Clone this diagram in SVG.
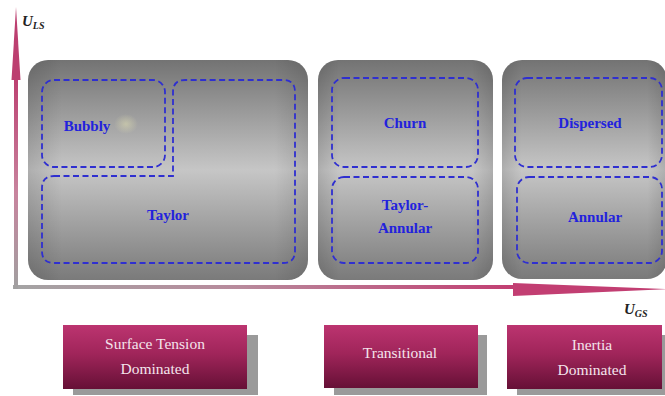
<svg xmlns="http://www.w3.org/2000/svg" width="665" height="396" viewBox="0 0 665 396">
<defs>
<linearGradient id="panelGrad" x1="0" y1="0" x2="0" y2="1">
<stop offset="0" stop-color="#737373"/>
<stop offset="0.5" stop-color="#c6c6c6"/>
<stop offset="1" stop-color="#7a7a7a"/>
</linearGradient>
<linearGradient id="panelSide" x1="0" y1="0" x2="1" y2="0">
<stop offset="0" stop-color="#000" stop-opacity="0.12"/>
<stop offset="0.12" stop-color="#000" stop-opacity="0"/>
<stop offset="0.88" stop-color="#000" stop-opacity="0"/>
<stop offset="1" stop-color="#000" stop-opacity="0.12"/>
</linearGradient>
<linearGradient id="boxGrad" x1="0" y1="0" x2="0" y2="1">
<stop offset="0" stop-color="#bc3470"/>
<stop offset="0.45" stop-color="#a0255a"/>
<stop offset="1" stop-color="#661036"/>
</linearGradient>
<linearGradient id="vAxis" x1="0" y1="0" x2="0" y2="1">
<stop offset="0" stop-color="#bc3f70"/>
<stop offset="0.55" stop-color="#c8849e"/>
<stop offset="1" stop-color="#a0a0a0"/>
</linearGradient>
<linearGradient id="hAxis" x1="0" y1="0" x2="1" y2="0">
<stop offset="0" stop-color="#a4a4a4"/>
<stop offset="0.45" stop-color="#b88a9c"/>
<stop offset="1" stop-color="#c23e72"/>
</linearGradient>
<radialGradient id="glow" cx="0.5" cy="0.5" r="0.5">
<stop offset="0" stop-color="#dedcb0" stop-opacity="0.55"/>
<stop offset="1" stop-color="#dedcb0" stop-opacity="0"/>
</radialGradient>
<style>
.panel{fill:url(#panelGrad);}
.side{fill:url(#panelSide);}
.dash{fill:none;stroke:#2f2fd0;stroke-width:1.8;stroke-dasharray:6 3.5;}
.lbl{font-family:"Liberation Serif","Times New Roman",serif;font-weight:bold;font-size:15px;fill:#2222dd;text-anchor:middle;}
.box{fill:url(#boxGrad);}
.shadow{fill:#9a9a9a;}
.btxt{font-family:"Liberation Serif","Times New Roman",serif;font-size:15.5px;fill:#f4e4ec;text-anchor:middle;}
.ax{font-family:"Liberation Serif","Times New Roman",serif;font-weight:bold;font-style:italic;fill:#222;}
</style>
</defs>
<rect width="665" height="396" fill="#ffffff"/>

<g id="connectors">
<rect x="13" y="285" width="502" height="4" fill="url(#hAxis)"/>
<polygon points="513,283 668,289 513,296" fill="#c23e72"/>
<rect x="14" y="76" width="4" height="213" fill="url(#vAxis)"/>
<polygon points="16,7 20.5,80 11.5,80" fill="#bc3f70"/>
</g>

<g id="axis-ls">
<text class="ax" x="22" y="26" font-size="15">U<tspan font-size="10" dy="3">LS</tspan></text>
</g>
<g id="axis-gs">
<text class="ax" x="624" y="314" font-size="15">U<tspan font-size="10" dy="3">GS</tspan></text>
</g>

<g id="panel-surface">
<rect class="panel" x="28" y="60" width="280" height="220" rx="20"/>
<rect class="side" x="28" y="60" width="280" height="220" rx="20"/>
<ellipse cx="126" cy="124" rx="12" ry="10" fill="url(#glow)"/>
</g>
<g id="panel-transitional">
<rect class="panel" x="318" y="60" width="175" height="220" rx="20"/>
<rect class="side" x="318" y="60" width="175" height="220" rx="20"/>
</g>
<g id="panel-inertia">
<rect class="panel" x="502" y="60" width="165" height="219" rx="20"/>
<rect class="side" x="502" y="60" width="165" height="219" rx="20"/>
</g>

<g id="bubbly">
<rect class="dash" x="42" y="80" width="123" height="87" rx="12"/>
<text class="lbl" x="87" y="131">Bubbly</text>
</g>
<g id="taylor">
<path class="dash" d="M54,176 L173,176 L173,92 Q173,80 185,80 L283,80 Q295,80 295,92 L295,251 Q295,263 283,263 L54,263 Q42,263 42,251 L42,188 Q42,176 54,176 Z"/>
<text class="lbl" x="168" y="220">Taylor</text>
</g>
<g id="churn">
<rect class="dash" x="332" y="78" width="146" height="89" rx="12"/>
<text class="lbl" x="405" y="128">Churn</text>
</g>
<g id="taylor-annular">
<rect class="dash" x="332" y="177" width="146" height="86" rx="12"/>
<text class="lbl" x="405" y="210">Taylor-</text>
<text class="lbl" x="405" y="233">Annular</text>
</g>
<g id="dispersed">
<rect class="dash" x="515" y="78" width="147" height="89" rx="12"/>
<text class="lbl" x="590" y="128">Dispersed</text>
</g>
<g id="annular">
<rect class="dash" x="517" y="177" width="145" height="86" rx="12"/>
<text class="lbl" x="595" y="222">Annular</text>
</g>

<g id="surface-tension-dominated">
<rect class="shadow" x="73" y="335" width="185" height="60"/>
<rect class="box" x="63" y="325" width="184" height="64"/>
<text class="btxt" x="155" y="349">Surface Tension</text>
<text class="btxt" x="155" y="374">Dominated</text>
</g>
<g id="transitional">
<rect class="shadow" x="334" y="335" width="153" height="60"/>
<rect class="box" x="324" y="325" width="154" height="63"/>
<text class="btxt" x="400" y="358">Transitional</text>
</g>
<g id="inertia-dominated">
<rect class="shadow" x="517" y="335" width="150" height="60"/>
<rect class="box" x="507" y="325" width="155" height="64"/>
<text class="btxt" x="592" y="350">Inertia</text>
<text class="btxt" x="592" y="375">Dominated</text>
</g>
</svg>
